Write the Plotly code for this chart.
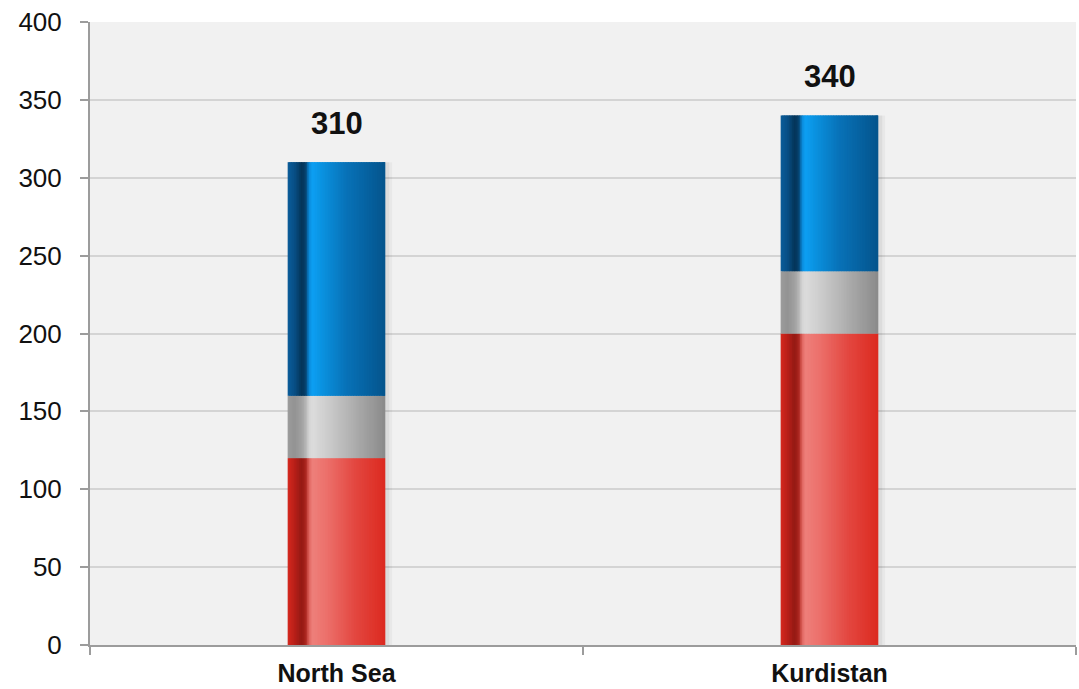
import plotly.graph_objects as go
import numpy as np

# ---- data ----
categories = ["North Sea", "Kurdistan"]
red_values = [120, 200]
gray_values = [40, 40]
blue_values = [150, 100]
totals = [310, 340]
y_ticks = [0, 50, 100, 150, 200, 250, 300, 350, 400]

# ---- styles ----
BAR_W = 0.198
N_STRIPS = 60

def hex2rgb(h):
    h = h.lstrip("#")
    return np.array([int(h[i:i + 2], 16) for i in (0, 2, 4)], dtype=float)

blue_stops = [(0.0, "#0b5d99"), (0.07, "#084f86"), (0.14, "#043559"), (0.185, "#063f6a"),
              (0.215, "#0a86d4"), (0.25, "#0da0f4"), (0.35, "#0a92e0"), (0.6, "#0872b8"),
              (1.0, "#04548c")]
gray_stops = [(0.0, "#9c9c9c"), (0.07, "#939393"), (0.14, "#a0a0a0"), (0.185, "#b4b4b4"),
              (0.215, "#d2d2d2"), (0.25, "#dcdcdc"), (0.45, "#c8c8c8"), (0.7, "#ababab"),
              (1.0, "#8a8a8a")]
red_stops = [(0.0, "#d6291f"), (0.07, "#b81f18"), (0.14, "#951a14"), (0.185, "#a8231c"),
             (0.215, "#dc5f59"), (0.25, "#ee807b"), (0.4, "#ec706b"), (0.7, "#e3463f"),
             (1.0, "#dc2a20")]

def grad(stops, t):
    for (t0, c0), (t1, c1) in zip(stops[:-1], stops[1:]):
        if t0 <= t <= t1:
            f = (t - t0) / (t1 - t0) if t1 > t0 else 0
            c = hex2rgb(c0) * (1 - f) + hex2rgb(c1) * f
            return "rgb(%d,%d,%d)" % tuple(np.round(c).astype(int))
    c = hex2rgb(stops[-1][1])
    return "rgb(%d,%d,%d)" % tuple(c.astype(int))

fig = go.Figure()

# soft shadow behind bars
for k, (dx, alpha) in enumerate([(0.014, 0.035), (0.008, 0.05)]):
    fig.add_trace(go.Bar(
        x=categories, y=totals, base=[0, 0],
        width=BAR_W + dx, offset=-(BAR_W) / 2,
        marker=dict(color="rgba(0,0,0,%g)" % alpha, line=dict(width=0)),
        hoverinfo="skip", showlegend=False))

red_base = [0, 0]
gray_base = list(red_values)
blue_base = [r + g for r, g in zip(red_values, gray_values)]

segments = [(red_values, red_base, red_stops),
            (gray_values, gray_base, gray_stops),
            (blue_values, blue_base, blue_stops)]

d = BAR_W / N_STRIPS
for vals, base, stops in segments:
    for i in range(N_STRIPS):
        t = (i + 0.5) / N_STRIPS
        w = d * 1.8 if i < N_STRIPS - 1 else d
        fig.add_trace(go.Bar(
            x=categories, y=vals, base=base,
            width=w, offset=-BAR_W / 2 + i * d,
            marker=dict(color=grad(stops, t), line=dict(width=0)),
            hoverinfo="skip", showlegend=False))

for c, tot in zip(categories, totals):
    fig.add_annotation(x=c, y=tot, text="<b>%d</b>" % tot, showarrow=False,
                       yanchor="bottom", yshift=19,
                       font=dict(family="Liberation Sans, Arial, sans-serif", size=31, color="#111111"))

fig.update_layout(
    width=1079, height=689,
    margin=dict(l=90, r=3, t=22, b=44),
    barmode="overlay",
    paper_bgcolor="white",
    plot_bgcolor="#f1f1f1",
    showlegend=False,
    font=dict(family="Liberation Sans, Arial, sans-serif", color="#111111"),
)
fig.update_yaxes(
    range=[0, 400], tickvals=y_ticks, ticktext=[str(v) for v in y_ticks],
    showgrid=True, gridcolor="#d4d4d4", gridwidth=1.5,
    showline=True, linecolor="#9c9c9c", linewidth=2,
    ticks="outside", ticklen=8, tickcolor="#9c9c9c", tickwidth=2,
    zeroline=False, tickfont=dict(size=26, color="#111111"),
    ticklabelstandoff=13, automargin=False,
)
fig.update_xaxes(
    type="category", range=[-0.5, 1.5],
    showline=True, linecolor="#9c9c9c", linewidth=2,
    ticks="outside", ticklen=8, tickcolor="#9c9c9c", tickwidth=2,
    tickson="boundaries", showgrid=False,
    tickfont=dict(size=25, color="#111111", weight="bold"),
    ticklabelstandoff=5, automargin=False,
)

fig.write_html("out.html")
